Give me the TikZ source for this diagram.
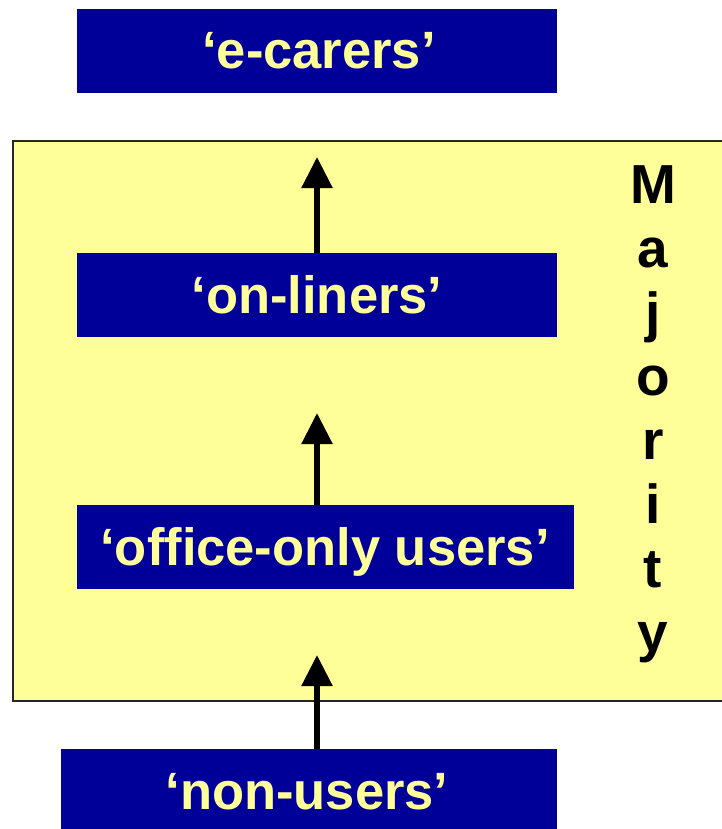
\documentclass[tikz,border=0pt]{standalone}
\usepackage{fontspec}
\setmainfont{Liberation Sans}
\usetikzlibrary{arrows.meta}
\definecolor{boxblue}{HTML}{000099}
\definecolor{paleyel}{HTML}{FFFF99}
\tikzset{
  catbox/.style={fill=boxblue, draw=none},
  cattext/.style={anchor=base, text=paleyel, font=\fontsize{52.5}{52.5}\selectfont\bfseries, inner sep=0pt},
  majletter/.style={anchor=base, text=black, font=\fontsize{55}{55}\selectfont\bfseries, inner sep=0pt},
  uparrow/.style={line width=5.5pt, -{Triangle[length=31pt,width=30pt]}},
}
\begin{document}
\begin{tikzpicture}[x=1pt,y=-1pt]
\useasboundingbox (0,0) rectangle (721,829);
% yellow majority region
\path[fill=paleyel, draw=black!85, line width=1.8pt] (13,141) rectangle (740,701);
% category boxes
\node[catbox, minimum width=480pt, minimum height=84pt, inner sep=0pt] (ecarers) at (317,51) {};
\node[catbox, minimum width=480pt, minimum height=84pt, inner sep=0pt] (onliners) at (317,295) {};
\node[catbox, minimum width=497pt, minimum height=84pt, inner sep=0pt] (office) at (325.5,547) {};
\node[catbox, minimum width=496pt, minimum height=100pt, inner sep=0pt] (nonusers) at (309,799) {};
% texts
\node[cattext] (tecarers) at (319,69) {‘e-carers’};
\node[cattext] (tonliners) at (317,313) {‘on-liners’};
\node[cattext] (toffice) at (325,565) {‘office-only users’};
\node[cattext] (tnonusers) at (307,809) {‘non-users’};
% arrow tips
\coordinate (tip1) at (317,157);
\coordinate (tip2) at (317,413);
\coordinate (tip3) at (317,655);
\draw[uparrow] (tip1 |- onliners.north) -- (tip1);
\draw[uparrow] (tip2 |- office.north) -- (tip2);
\draw[uparrow] (tip3 |- nonusers.north) -- (tip3);
% Majority
\node[majletter] (m1) at (653,203) {M};
\node[majletter] (m2) at (653,267) {a};
\node[majletter] (m3) at (653,331) {j};
\node[majletter] (m4) at (653,395) {o};
\node[majletter] (m5) at (653,459) {r};
\node[majletter] (m6) at (653,523) {i};
\node[majletter] (m7) at (653,587) {t};
\node[majletter] (m8) at (653,651) {y};
\end{tikzpicture}
\end{document}
